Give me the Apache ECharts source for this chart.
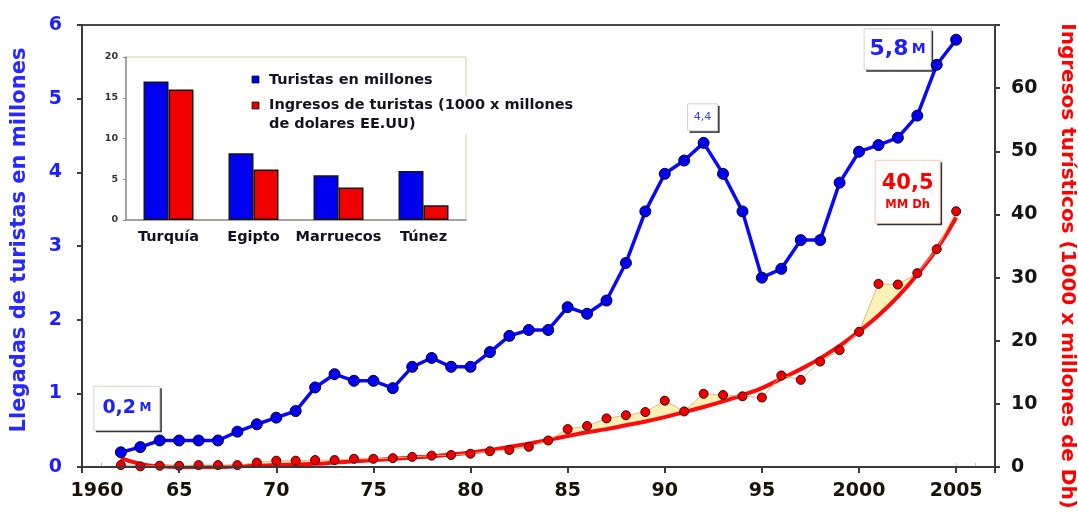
<!DOCTYPE html>
<html>
<head>
<meta charset="utf-8">
<script src="https://cdn.jsdelivr.net/npm/echarts@6/dist/echarts.min.js"></script>
<style>
  html, body { margin: 0; padding: 0; background: #fff; }
  #chart { width: 1078px; height: 531px; }
</style>
</head>
<body>
<div id="chart"></div>
<script>
// Years covered by both series
const years = [1962, 1963, 1964, 1965, 1966, 1967, 1968, 1969, 1970, 1971,
               1972, 1973, 1974, 1975, 1976, 1977, 1978, 1979, 1980, 1981,
               1982, 1983, 1984, 1985, 1986, 1987, 1988, 1989, 1990, 1991,
               1992, 1993, 1994, 1995, 1996, 1997, 1998, 1999, 2000, 2001,
               2002, 2003, 2004, 2005];

// Tourist arrivals, millions (left axis)
const arrivals = [0.2, 0.27, 0.36, 0.36, 0.36, 0.36, 0.48, 0.58, 0.67, 0.76,
                  1.08, 1.26, 1.17, 1.17, 1.07, 1.36, 1.48, 1.36, 1.36, 1.56,
                  1.78, 1.86, 1.86, 2.17, 2.08, 2.26, 2.77, 3.47, 3.98, 4.16,
                  4.4, 3.98, 3.47, 2.57, 2.69, 3.08, 3.08, 3.86, 4.28, 4.37,
                  4.47, 4.77, 5.46, 5.8];

// Tourism receipts, 1000 x million Dh (right axis)
const receipts = [0.3, 0.1, 0.2, 0.2, 0.3, 0.3, 0.3, 0.7, 1.0, 1.0,
                  1.1, 1.1, 1.3, 1.3, 1.4, 1.6, 1.8, 1.9, 2.1, 2.5,
                  2.7, 3.2, 4.2, 6.0, 6.5, 7.7, 8.2, 8.7, 10.5, 8.8,
                  11.6, 11.4, 11.2, 11.0, 14.5, 13.8, 16.7, 18.5, 21.4, 29.0,
                  28.9, 30.7, 34.5, 40.5];

// Trend curve through the receipts
const receiptsTrend = [1.4, 0.5, 0.1, 0.0, 0.0, 0.0, 0.1, 0.2, 0.3, 0.4,
                       0.5, 0.7, 0.9, 1.1, 1.3, 1.5, 1.7, 2.0, 2.3, 2.7,
                       3.2, 3.7, 4.3, 4.9, 5.5, 6.0, 6.6, 7.2, 7.9, 8.7,
                       9.5, 10.4, 11.4, 12.5, 14.0, 15.5, 17.2, 19.2, 21.5, 24.0,
                       27.0, 30.5, 34.5, 39.5];

// Year axis tick labels
const xTickValues = [1960, 1965, 1970, 1975, 1980, 1985, 1990, 1995, 2000, 2005];
const xTickLabels = ['1960', '65', '70', '75', '80', '85', '90', '95', '2000', '2005'];

// Inset comparison by country
const countries = ['Turquía', 'Egipto', 'Marruecos', 'Túnez'];
const countryArrivals = [17.0, 8.2, 5.5, 6.0];
const countryReceipts = [16.0, 6.2, 4.0, 1.8];

// Value callouts
const callouts = [
  { series: 'arrivals', year: 1962, main: '0,2', unit: 'M' },
  { series: 'arrivals', year: 1992, main: '4,4', unit: '' },
  { series: 'arrivals', year: 2005, main: '5,8', unit: 'M' },
  { series: 'receipts', year: 2005, main: '40,5', unit: 'MM Dh' }
];

const FONT = '"DejaVu Sans", Verdana, sans-serif';
const BLUE = '#1e1eff';
const RED = '#ff0000';

const pairs = (vals) => years.map((y, i) => [y, vals[i]]);

const chart = echarts.init(document.getElementById('chart'), null, { renderer: 'canvas' });

const option = {
  animation: false,
  backgroundColor: '#ffffff',
  grid: [
    { left: 82, right: 83, top: 25, bottom: 64, show: true, borderColor: '#4a4a4a', borderWidth: 2 },
    { left: 126, top: 57, width: 340, height: 163, show: true, borderColor: '#dccca6', borderWidth: 1 },
    { left: 82, right: 83, top: 25, bottom: 64 }
  ],
  xAxis: [
    {
      gridIndex: 0, type: 'value', min: 1960, max: 2007, interval: 5, z: 5,
      axisLine: { lineStyle: { color: '#3a3a3a', width: 2 } },
      axisTick: { length: 6, lineStyle: { color: '#3a3a3a', width: 2 } },
      splitLine: { show: false },
      axisLabel: {
        margin: 15,
        color: '#17110a', fontFamily: FONT, fontWeight: 'bold', fontSize: 19,
        formatter: (v) => {
          const i = xTickValues.indexOf(v);
          if (i < 0) return '';
          return i === 0 ? '{first|' + xTickLabels[i] + '}' : xTickLabels[i];
        },
        rich: {
          first: { padding: [0, 0, 0, 30], color: '#17110a', fontFamily: FONT, fontWeight: 'bold', fontSize: 19 }
        }
      }
    },
    {
      gridIndex: 1, type: 'category', data: countries,
      axisLine: { lineStyle: { color: '#8a8a8a', width: 1.5 } },
      axisTick: { show: false },
      axisLabel: { interval: 0, margin: 10, color: '#111122', fontFamily: FONT, fontWeight: 'bold', fontSize: 14.5 }
    },
    {
      gridIndex: 2, type: 'value', min: 1960, max: 2007, interval: 1,
      axisLine: { show: false },
      axisTick: { inside: true, length: 4, lineStyle: { color: '#cdbb8a', width: 1 } },
      axisLabel: { show: false },
      splitLine: { show: false }
    }
  ],
  yAxis: [
    {
      gridIndex: 0, type: 'value', position: 'left', min: 0, max: 6, interval: 1, z: 5,
      axisLine: { show: true, lineStyle: { color: '#3a3a3a', width: 2 } },
      axisTick: { show: true, length: 5, lineStyle: { color: '#3a3a3a', width: 2 } },
      splitLine: { show: false },
      axisLabel: { margin: 20, color: BLUE, fontFamily: FONT, fontWeight: 'bold', fontSize: 19 }
    },
    {
      gridIndex: 0, type: 'value', position: 'right', min: 0, max: 70, interval: 10, z: 5,
      axisLine: { show: true, lineStyle: { color: '#3a3a3a', width: 2 } },
      axisTick: { show: true, length: 5, lineStyle: { color: '#3a3a3a', width: 2 } },
      splitLine: { show: false },
      axisLabel: {
        margin: 16, color: '#141414', fontFamily: FONT, fontWeight: 'bold', fontSize: 19,
        formatter: (v) => (v === 70 ? '' : String(v))
      }
    },
    {
      gridIndex: 1, type: 'value', min: 0, max: 20, interval: 5,
      axisLine: { show: true, lineStyle: { color: '#8a8a8a', width: 1.5 } },
      axisTick: { show: true, length: 3, lineStyle: { color: '#8a8a8a' } },
      splitLine: { show: false },
      axisLabel: { margin: 8, color: '#333333', fontFamily: FONT, fontWeight: 'bold', fontSize: 9.5 }
    },
    { gridIndex: 2, type: 'value', show: false, min: 0, max: 1 }
  ],
  series: [
    {
      // pale fill between the receipts polyline and the trend
      name: 'receiptsFill', type: 'line', xAxisIndex: 0, yAxisIndex: 1,
      data: pairs(receipts), showSymbol: false, silent: true,
      lineStyle: { width: 0 },
      areaStyle: { color: '#fdf1b8', opacity: 1 }
    },
    {
      name: 'receiptsTrend', type: 'line', xAxisIndex: 0, yAxisIndex: 1,
      data: pairs(receiptsTrend), smooth: true, showSymbol: false, silent: true,
      lineStyle: { color: '#ff0a0a', width: 4 },
      areaStyle: { color: '#ffffff', opacity: 1 }
    },
    {
      name: 'receipts', type: 'line', xAxisIndex: 0, yAxisIndex: 1,
      data: pairs(receipts), symbol: 'circle', symbolSize: 9,
      lineStyle: { color: '#f2b27a', width: 1 },
      itemStyle: { color: '#ee0000', borderColor: '#3a0000', borderWidth: 1 }
    },
    {
      name: 'arrivals', type: 'line', xAxisIndex: 0, yAxisIndex: 0,
      data: pairs(arrivals), symbol: 'circle', symbolSize: 11,
      lineStyle: { color: '#0808ff', width: 3.5 },
      itemStyle: { color: '#0000ee', borderColor: '#000030', borderWidth: 1 }
    },
    {
      name: 'Turistas en millones', type: 'bar', xAxisIndex: 1, yAxisIndex: 2,
      data: countryArrivals, barWidth: 25, barGap: '0%',
      itemStyle: { color: '#0000f0', borderColor: '#151515', borderWidth: 1.5 }
    },
    {
      name: 'Ingresos de turistas (1000 x millones de dolares EE.UU)', type: 'bar', xAxisIndex: 1, yAxisIndex: 2,
      data: countryReceipts, barWidth: 25, barGap: '0%',
      itemStyle: { color: '#f00000', borderColor: '#151515', borderWidth: 1.5 }
    }
  ]
};

chart.setOption(option);

// Callout box anchored to a data point: offsets place the box beside the point
const calloutLayout = {
  1962: { dx: -27, dy: -66, w: 66, h: 44 },
  1992: { dx: -16, dy: -39, w: 30, h: 27 }
};

function calloutGraphic(c) {
  const isReceipts = c.series === 'receipts';
  const vals = isReceipts ? receipts : arrivals;
  const value = vals[years.indexOf(c.year)];
  const p = chart.convertToPixel({ xAxisIndex: 0, yAxisIndex: isReceipts ? 1 : 0 }, [c.year, value]);
  let lay;
  if (isReceipts) lay = { dx: -81, dy: -51, w: 65, h: 63 };
  else if (c.year === 2005) lay = { dx: -92, dy: -11, w: 67, h: 41 };
  else lay = calloutLayout[c.year];

  const color = isReceipts ? RED : BLUE;
  let textStyle;
  if (isReceipts) {
    textStyle = {
      text: '{v|' + c.main + '}\n{u|' + c.unit + '}',
      rich: {
        v: { fill: color, fontFamily: FONT, fontWeight: 'bold', fontSize: 21, lineHeight: 26 },
        u: { fill: color, fontFamily: FONT, fontWeight: 'bold', fontSize: 11.5, lineHeight: 16 }
      }
    };
  } else if (c.unit) {
    const big = c.year === 2005 ? 22 : 19;
    const small = c.year === 2005 ? 14 : 12;
    textStyle = {
      text: '{v|' + c.main + '} {u|' + c.unit + '}',
      rich: {
        v: { fill: color, fontFamily: FONT, fontWeight: 'bold', fontSize: big },
        u: { fill: color, fontFamily: FONT, fontWeight: 'bold', fontSize: small }
      }
    };
  } else {
    textStyle = { text: c.main, fill: '#3c3cff', fontFamily: FONT, fontSize: 11 };
  }
  return {
    type: 'group', x: p[0] + lay.dx, y: p[1] + lay.dy, silent: true, z: 10,
    children: [
      { type: 'rect', shape: { x: 2, y: 2, width: lay.w, height: lay.h }, style: { fill: '#333333' } },
      { type: 'rect', shape: { x: 0, y: 0, width: lay.w, height: lay.h },
        style: { fill: '#ffffff', stroke: isReceipts ? '#f4c8b0' : '#d4d4d4', lineWidth: 1 } },
      { type: 'text', x: lay.w / 2, y: lay.h / 2,
        style: Object.assign({ align: 'center', verticalAlign: 'middle' }, textStyle) }
    ]
  };
}

const graphics = callouts.map(calloutGraphic);

// Axis titles
graphics.push({
  type: 'text', x: 20, y: 240, rotation: Math.PI / 2, silent: true,
  style: { text: 'Llegadas de turistas en millones', fill: '#2828ff', fontFamily: FONT, fontWeight: 'bold', fontSize: 21,
           align: 'center', verticalAlign: 'middle' }
});
graphics.push({
  type: 'text', x: 1067, y: 266, rotation: -Math.PI / 2, silent: true,
  style: { text: 'Ingresos turísticos (1000 x millones de Dh)', fill: RED, fontFamily: FONT, fontWeight: 'bold', fontSize: 20,
           align: 'center', verticalAlign: 'middle' }
});

// Inset legend
graphics.push({
  type: 'group', x: 252, y: 76, silent: true, z: 10,
  children: [
    { type: 'rect', shape: { x: 0, y: 0, width: 7, height: 7 }, style: { fill: '#0000d8', stroke: '#111', lineWidth: 0.8 } },
    { type: 'text', x: 17, y: 4, style: { text: 'Turistas en millones', fill: '#141420', fontFamily: FONT, fontWeight: 'bold', fontSize: 14.5, verticalAlign: 'middle' } },
    { type: 'rect', shape: { x: 0, y: 26, width: 7, height: 7 }, style: { fill: '#e00000', stroke: '#111', lineWidth: 0.8 } },
    { type: 'text', x: 17, y: 20, style: { text: 'Ingresos de turistas (1000 x millones\nde dolares EE.UU)', fill: '#141420', fontFamily: FONT, fontWeight: 'bold', fontSize: 14.5, lineHeight: 19, verticalAlign: 'top', backgroundColor: '#ffffff' } }
  ]
});

chart.setOption({ graphic: graphics });
</script>
</body>
</html>
